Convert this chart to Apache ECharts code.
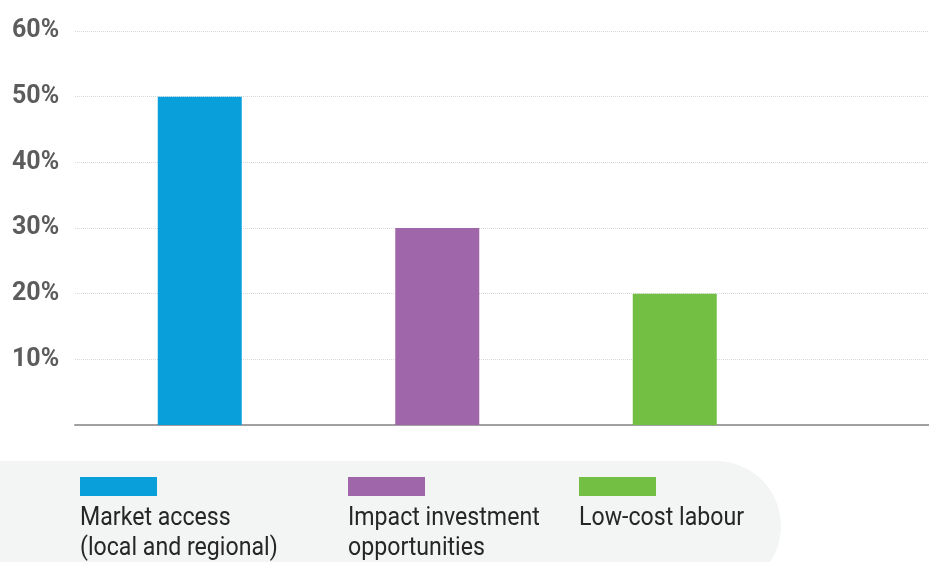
<!DOCTYPE html>
<html>
<head>
<meta charset="utf-8">
<script src="https://cdn.jsdelivr.net/npm/echarts@6/dist/echarts.min.js"></script>
<style>
html,body{margin:0;padding:0;background:#fff;}
#chart{width:929px;height:562px;}
</style>
</head>
<body>
<div id="chart"></div>
<script>
var categories = ['Market access\n(local and regional)', 'Impact investment\nopportunities', 'Low-cost labour'];
var values = [50, 30, 20];
var colors = ['#089fdb', '#a066aa', '#72bf44'];
var yTicks = [0, 10, 20, 30, 40, 50, 60];

var chart = echarts.init(document.getElementById('chart'));

var axisCats = categories.concat(['']);
var barData = values.map(function (v, i) {
  return { value: v, itemStyle: { color: colors[i] } };
});

var legendX = [80, 348, 579];
var graphics = [{
  type: 'rect', z: 0,
  shape: { x: -80, y: 461, width: 861, height: 130, r: 65 },
  style: { fill: '#f3f4f4' }
}];
categories.forEach(function (c, i) {
  graphics.push({
    type: 'rect', z: 1,
    shape: { x: legendX[i], y: 477, width: 77, height: 19 },
    style: { fill: colors[i] }
  });
  graphics.push({
    type: 'text', z: 1,
    x: legendX[i], y: 503, scaleX: 0.89,
    style: {
      text: c, fill: '#262626',
      font: '26px Roboto', lineHeight: 30,
      textVerticalAlign: 'top', verticalAlign: 'top'
    }
  });
});

var yMin = yTicks[0], yMax = yTicks[yTicks.length - 1];

chart.setOption({
  animation: false,
  backgroundColor: '#ffffff',
  grid: [
    { left: 81, top: 31, bottom: 137, right: -102, containLabel: false, outerBoundsMode: 'none' },
    { left: 75, top: 31, bottom: 137, right: 0, containLabel: false, outerBoundsMode: 'none' }
  ],
  xAxis: [{
    type: 'category', gridIndex: 0,
    data: axisCats,
    axisLine: { show: false },
    axisTick: { show: false },
    axisLabel: { show: false },
    splitLine: { show: false }
  }, {
    type: 'category', gridIndex: 1,
    data: [''],
    offset: 1,
    axisLine: { show: true, lineStyle: { color: '#a0a0a0', width: 2 } },
    axisTick: { show: false },
    axisLabel: { show: false },
    splitLine: { show: false }
  }],
  yAxis: [{
    type: 'value', gridIndex: 0,
    min: yMin, max: yMax, interval: 10,
    show: false
  }, {
    type: 'value', gridIndex: 1,
    min: yMin, max: yMax, interval: 10,
    axisLine: { show: false },
    axisTick: { show: false },
    axisLabel: {
      align: 'left', margin: 63,
      color: '#5c5c5c', fontFamily: 'Roboto', fontWeight: 'bold', fontSize: 25,
      formatter: function (v) { return v === 0 ? '' : v + '%'; }
    },
    splitLine: { show: true, lineStyle: { color: '#d8d8d8', type: 'dotted', width: 1 } }
  }],
  series: [{
    type: 'bar',
    xAxisIndex: 0, yAxisIndex: 0,
    data: barData,
    barWidth: 84,
    z: 3
  }],
  graphic: graphics
});
</script>
</body>
</html>
